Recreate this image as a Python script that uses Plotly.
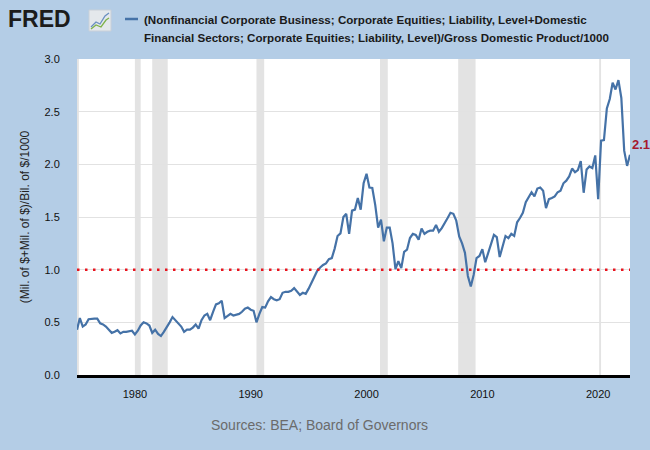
import plotly.graph_objects as go
import pandas as pd

values = [
    0.43, 0.54, 0.46, 0.48, 0.53, 0.535, 0.535, 0.535, 0.49, 0.48,   # 1975-1977Q2
    0.46, 0.43, 0.40, 0.41, 0.425, 0.395, 0.41, 0.41, 0.415, 0.42,   # -1979Q4
    0.385, 0.42, 0.47, 0.50, 0.49, 0.47, 0.40, 0.43, 0.39, 0.37,     # 1980Q1-1982Q2
    0.41, 0.45, 0.50, 0.55, 0.52, 0.50, 0.46, 0.41, 0.43, 0.43,      # -1984Q4
    0.45, 0.48, 0.44, 0.52, 0.565, 0.58, 0.52, 0.60, 0.67, 0.68,     # 1985Q1-1987Q2
    0.705, 0.54, 0.56, 0.58, 0.565, 0.57, 0.58, 0.60, 0.63, 0.64,    # -1989Q4
    0.62, 0.61, 0.50, 0.58, 0.645, 0.64, 0.70, 0.74, 0.72, 0.71,     # 1990Q1-1992Q2
    0.72, 0.78, 0.79, 0.79, 0.80, 0.825, 0.79, 0.76, 0.78, 0.77,     # -1994Q4
    0.82, 0.875, 0.94, 0.99, 1.02, 1.045, 1.06, 1.10, 1.11, 1.20,    # 1995Q1-1997Q2
    1.32, 1.345, 1.50, 1.53, 1.34, 1.56, 1.57, 1.68, 1.57, 1.82,     # -1999Q4
    1.91, 1.78, 1.775, 1.615, 1.40, 1.475, 1.27, 1.40, 1.40, 1.25,   # 2000Q1-2002Q2
    1.005, 1.08, 1.015, 1.17, 1.19, 1.30, 1.34, 1.33, 1.285, 1.39,   # -2004Q4
    1.34, 1.36, 1.37, 1.37, 1.425, 1.36, 1.395, 1.45, 1.49, 1.54,    # 2005Q1-2007Q2
    1.53, 1.465, 1.315, 1.25, 1.16, 0.94, 0.84, 0.95, 1.11, 1.13,    # -2009Q4
    1.195, 1.07, 1.15, 1.25, 1.33, 1.31, 1.12, 1.22, 1.32, 1.30,     # 2010Q1-2012Q2
    1.34, 1.32, 1.45, 1.49, 1.54, 1.64, 1.695, 1.735, 1.695, 1.77,   # -2014Q4
    1.78, 1.75, 1.585, 1.67, 1.68, 1.695, 1.735, 1.75, 1.82, 1.845,  # 2015Q1-2017Q2
    1.885, 1.96, 1.925, 1.945, 2.03, 1.73, 1.95, 1.98, 1.965, 2.085, # -2019Q4
    1.67, 2.225, 2.23, 2.53, 2.62, 2.775, 2.71, 2.80, 2.63, 2.13,    # 2020Q1-2022Q2
    1.985, 2.09,                                                      # 2022Q3-Q4
]
dates = pd.date_range("1975-01-01", periods=len(values), freq="QS")

tick_years = ["1980", "1990", "2000", "2010", "2020"]
y_ticks = [0.0, 0.5, 1.0, 1.5, 2.0, 2.5, 3.0]

recession_starts = ["1975-01-01", "1980-01-01", "1981-07-01", "1990-07-01",
                    "2001-03-01", "2007-12-01", "2020-02-01"]
recession_ends = ["1975-03-01", "1980-07-01", "1982-11-01", "1991-03-01",
                  "2001-11-01", "2009-06-01", "2020-04-01"]

legend_lines = ["(Nonfinancial Corporate Business; Corporate Equities; Liability, Level+Domestic",
                "Financial Sectors; Corporate Equities; Liability, Level)/Gross Domestic Product/1000"]
y_title = "(Mil. of $+Mil. of $)/Bil. of $/1000"
source_text = "Sources: BEA; Board of Governors"
last_label = "2.1"

BG = "#b4cde6"
LINE = "#4572a7"

fig = go.Figure()

fig.add_trace(go.Scatter(
    x=dates, y=values, mode="lines",
    line=dict(color=LINE, width=2.2),
    showlegend=False, hoverinfo="x+y",
))

shapes = []
for s, e in zip(recession_starts, recession_ends):
    shapes.append(dict(type="rect", xref="x", yref="paper", x0=s, x1=e, y0=0, y1=1,
                       fillcolor="#e3e3e3", line=dict(width=0), layer="below"))
# reference line at 1.0
shapes.append(dict(type="line", xref="paper", yref="y", x0=0, x1=1, y0=1.0, y1=1.0,
                   line=dict(color="#e8141e", width=2.5, dash="2.5px,5.5px"), layer="above"))

# helpers: pixel position -> paper coordinates
def px2x(px):
    return (px - 77) / 553.0

def py2y(py):
    return (375.0 - py) / 316.0

# legend line sample
shapes.append(dict(type="line", xref="paper", yref="paper",
                   x0=px2x(125), x1=px2x(138), y0=py2y(19), y1=py2y(19),
                   line=dict(color=LINE, width=2.5)))
# FRED icon: small box with trend lines
shapes.append(dict(type="rect", xref="paper", yref="paper",
                   x0=px2x(89), x1=px2x(111), y0=py2y(31), y1=py2y(10),
                   fillcolor="#e4e8ec", line=dict(color="#c9d0d8", width=1)))
shapes.append(dict(type="path", xref="paper", yref="paper",
                   path=(f"M {px2x(91)},{py2y(27)} L {px2x(96)},{py2y(22)} L {px2x(100)},{py2y(24)} "
                         f"L {px2x(105)},{py2y(16)} L {px2x(109)},{py2y(13)}"),
                   line=dict(color="#6a8fc0", width=1.3)))
shapes.append(dict(type="path", xref="paper", yref="paper",
                   path=(f"M {px2x(91)},{py2y(29)} L {px2x(96)},{py2y(25)} L {px2x(101)},{py2y(27)} "
                         f"L {px2x(106)},{py2y(20)} L {px2x(109)},{py2y(18)}"),
                   line=dict(color="#7fb24a", width=1.3)))

legend_font = dict(family="Liberation Sans Narrow, Arial Narrow, Liberation Sans, Arial",
                   size=11.6, color="#1a1a1a")
annotations = [
    dict(xref="paper", yref="paper", x=px2x(6), y=py2y(19), xanchor="left", yanchor="middle",
         text="<b>FRED</b>", showarrow=False,
         font=dict(family="Liberation Sans, Arial", size=23, color="#1c1c1c")),
    dict(xref="paper", yref="paper", x=px2x(142), y=py2y(19), xanchor="left", yanchor="middle",
         text="<b>" + legend_lines[0] + "</b>", showarrow=False, align="left", font=legend_font),
    dict(xref="paper", yref="paper", x=px2x(142), y=py2y(37), xanchor="left", yanchor="middle",
         text="<b>" + legend_lines[1] + "</b>", showarrow=False, align="left", font=legend_font),
    dict(xref="x", yref="y", x=dates[-1], y=values[-1], xanchor="left", yanchor="middle",
         xshift=0, yshift=10, text="<b>" + last_label + "</b>", showarrow=False,
         font=dict(family="Liberation Sans, Arial", size=13, color="#a6192e")),
    dict(xref="paper", yref="paper", x=px2x(319), y=py2y(425), xanchor="center", yanchor="middle",
         text=source_text, showarrow=False,
         font=dict(family="Liberation Sans, Arial", size=14, color="#6b6b6b")),
]

fig.update_layout(
    width=650, height=450,
    margin=dict(l=77, r=20, t=59, b=75, pad=0),
    paper_bgcolor=BG, plot_bgcolor="white",
    shapes=shapes, annotations=annotations,
    hovermode=False,
    xaxis=dict(
        type="date", range=["1975-01-01", "2022-10-01"],
        tickvals=[f"{y}-01-01" for y in tick_years], ticktext=tick_years,
        showgrid=False, zeroline=False,
        showline=True, linecolor="black", linewidth=2.5,
        ticks="outside", ticklen=7, tickcolor="rgba(0,0,0,0)",
        tickfont=dict(family="Liberation Sans, Arial", size=11, color="#111"),
    ),
    yaxis=dict(
        range=[0, 3.0], tickvals=y_ticks, ticktext=[f"{v:.1f}" for v in y_ticks],
        showgrid=True, gridcolor="#e2e2e2", gridwidth=1, zeroline=False,
        showline=False,
        ticks="outside", ticklen=14, tickcolor="rgba(0,0,0,0)",
        tickfont=dict(family="Liberation Sans, Arial", size=11, color="#111"),
        title=dict(text=y_title, standoff=12,
                   font=dict(family="Liberation Sans, Arial", size=12, color="#222")),
    ),
)

fig.write_html(
    "out.html",
    config={"displayModeBar": False},
    post_script="document.body.style.margin='0';document.body.style.background='" + BG + "';",
)
